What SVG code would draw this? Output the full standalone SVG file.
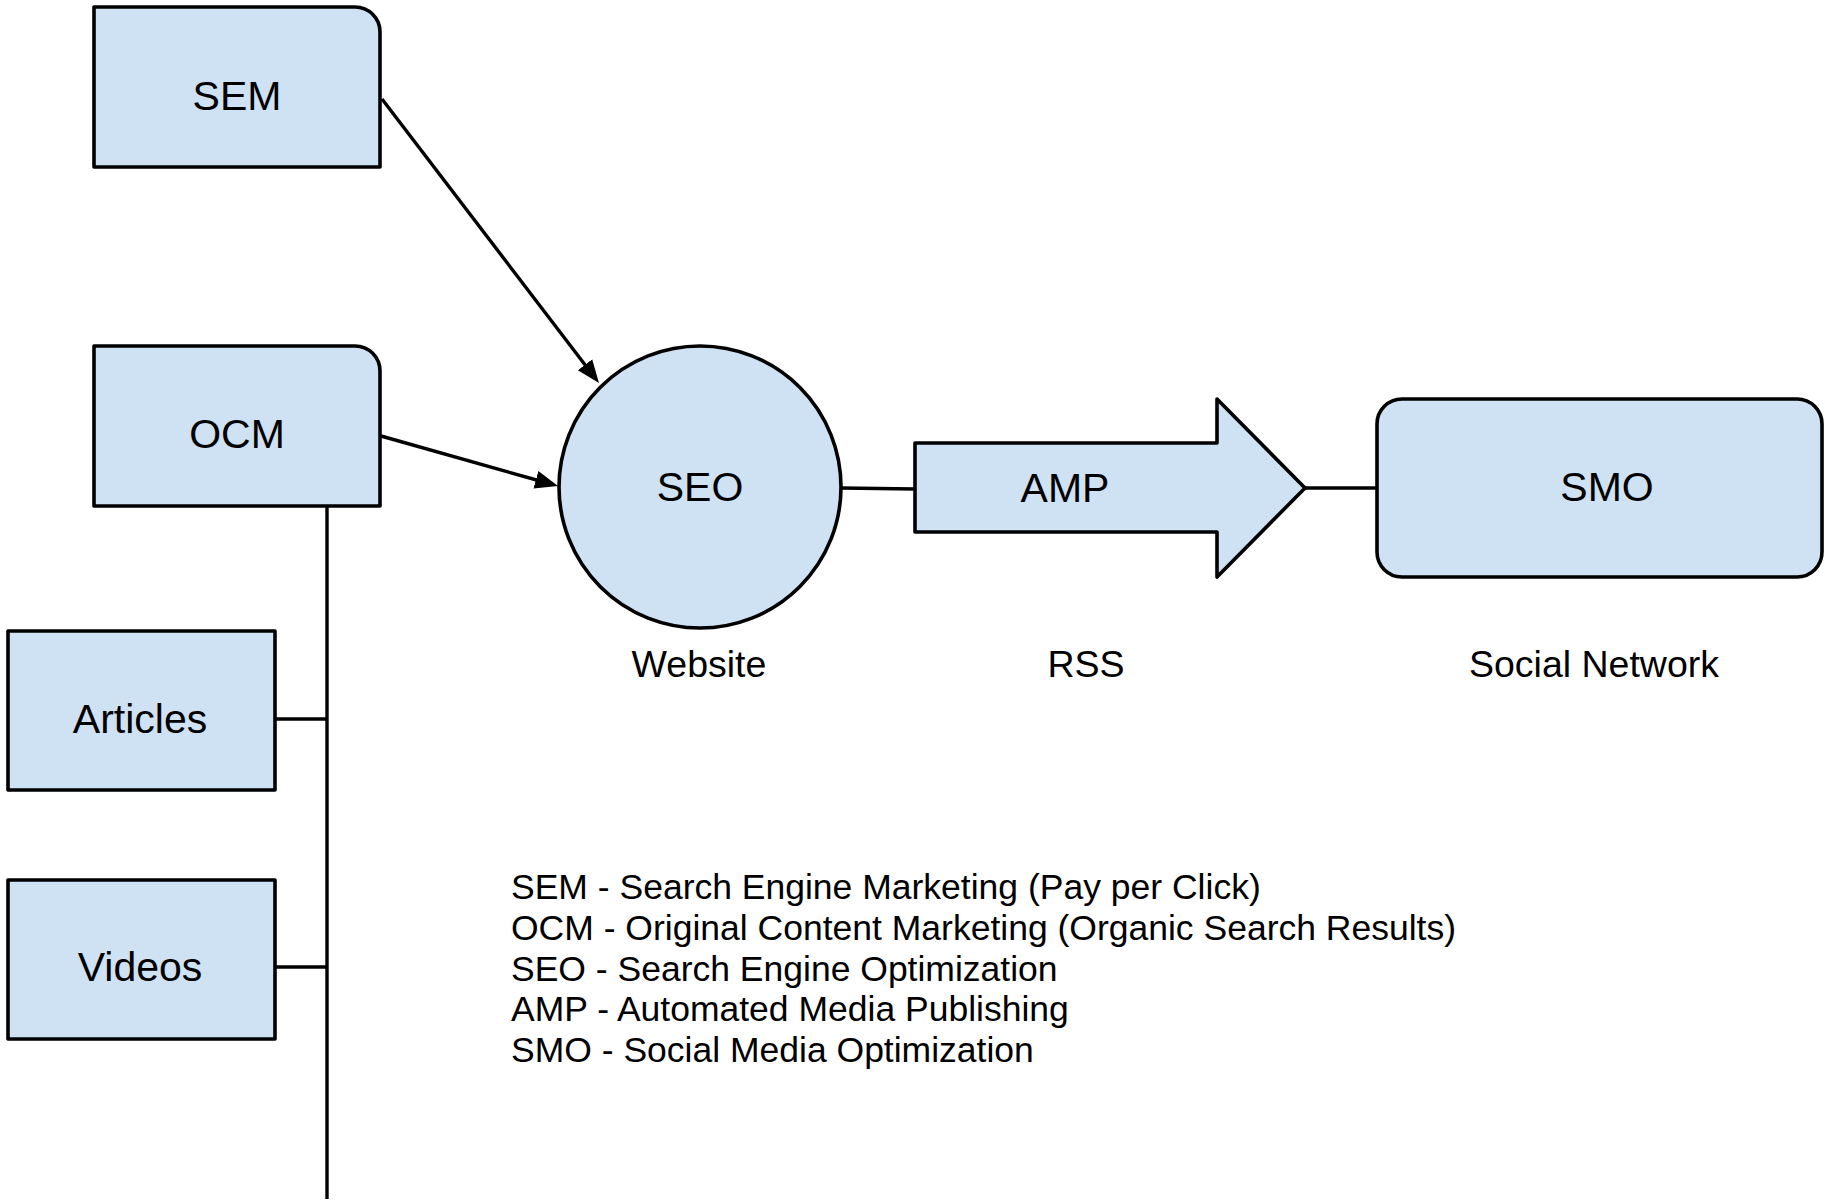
<svg xmlns="http://www.w3.org/2000/svg" width="1825" height="1200" viewBox="0 0 1825 1200">
  <style>
    .shape { fill: #cfe2f3; stroke: #000; stroke-width: 3.6; stroke-linejoin: round; }
    .wire { fill: none; stroke: #000; stroke-width: 3.4; }
    .lbl { font-family: "Liberation Sans", Arial, sans-serif; font-size: 41px; fill: #000; text-anchor: middle; }
    .sub { font-family: "Liberation Sans", Arial, sans-serif; font-size: 37.5px; fill: #000; text-anchor: middle; }
    .legend { font-family: "Liberation Sans", Arial, sans-serif; font-size: 35.5px; fill: #000; }
  </style>
  <defs>
    <marker id="head" markerUnits="userSpaceOnUse" markerWidth="24" markerHeight="20" viewBox="0 0 24 20" refX="10" refY="10" orient="auto">
      <path d="M0,1 L23,10 L0,19 z" fill="#000"/>
    </marker>
  </defs>

  <rect width="1825" height="1200" fill="#fff"/>

  <!-- connectors -->
  <g id="connectors">
    <line class="wire" x1="382" y1="99" x2="591.1" y2="372.7" marker-end="url(#head)"/>
    <line class="wire" x1="381" y1="436" x2="545.5" y2="482.5" marker-end="url(#head)"/>
    <line class="wire" x1="327" y1="506" x2="327" y2="1199"/>
    <line class="wire" x1="275" y1="719" x2="327" y2="719"/>
    <line class="wire" x1="275" y1="967" x2="327" y2="967"/>
    <line class="wire" x1="841" y1="488" x2="915" y2="489"/>
    <line class="wire" x1="1305" y1="488" x2="1377" y2="488"/>
  </g>

  <!-- nodes -->
  <g id="sem">
    <path class="shape" d="M94,7 H355 A25,25 0 0 1 380,32 V167 H94 Z"/>
    <text class="lbl" x="237" y="110">SEM</text>
  </g>
  <g id="ocm">
    <path class="shape" d="M94,346 H355 A25,25 0 0 1 380,371 V506 H94 Z"/>
    <text class="lbl" x="237" y="448">OCM</text>
  </g>
  <g id="articles">
    <rect class="shape" x="8" y="631" width="267" height="159"/>
    <text class="lbl" x="140" y="733">Articles</text>
  </g>
  <g id="videos">
    <rect class="shape" x="8" y="880" width="267" height="159"/>
    <text class="lbl" x="140" y="981">Videos</text>
  </g>
  <g id="seo">
    <circle class="shape" cx="700" cy="487" r="141"/>
    <text class="lbl" x="700" y="501">SEO</text>
    <text class="sub" x="699" y="677">Website</text>
  </g>
  <g id="amp">
    <path class="shape" d="M915,443 H1217 V399 L1305,488 L1217,577 V532 H915 Z"/>
    <text class="lbl" x="1065" y="502">AMP</text>
    <text class="sub" x="1086" y="677">RSS</text>
  </g>
  <g id="smo">
    <rect class="shape" x="1377" y="399" width="445" height="178" rx="25" ry="25"/>
    <text class="lbl" x="1607" y="501">SMO</text>
    <text class="sub" x="1594" y="677">Social Network</text>
  </g>

  <!-- abbreviation key -->
  <g id="legend" class="legend">
    <text x="511" y="899">SEM - Search Engine Marketing (Pay per Click)</text>
    <text x="511" y="940">OCM - Original Content Marketing (Organic Search Results)</text>
    <text x="511" y="981">SEO - Search Engine Optimization</text>
    <text x="511" y="1021">AMP - Automated Media Publishing</text>
    <text x="511" y="1062">SMO - Social Media Optimization</text>
  </g>
</svg>
